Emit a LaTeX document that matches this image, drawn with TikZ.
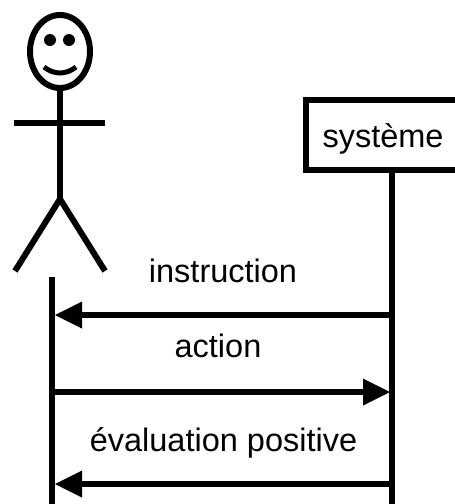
\documentclass[tikz,border=0pt]{standalone}
\usepackage{fontspec}
\setmainfont{Liberation Sans}
\usetikzlibrary{arrows.meta,shapes.geometric}
\tikzset{
  px/.style={x=1pt,y=-1pt},
  stroke/.style={draw=black,line width=6pt},
  msg/.style={stroke,-{Triangle[length=27pt,width=27pt,line width=0pt]},shorten >=0pt},
  lbl/.style={inner sep=0pt,anchor=base,font=\fontsize{32.5}{36}\selectfont},
}
\begin{document}
\begin{tikzpicture}[px]
\useasboundingbox (0,0) rectangle (455,504);
% actor
\node[stroke,draw,ellipse,minimum width=60pt,minimum height=73pt,inner sep=0pt] (head) at (60,51.5) {};
\fill (50,40) circle (6pt);
\fill (69,40) circle (6pt);
\draw[line width=5pt] (44,67) .. controls (54,75) and (66,75) .. (76,67);
\coordinate (hip) at (60,199);
\draw[stroke] (60,91) -- (hip);
\draw[stroke] (14,123) -- (105,123);
\draw[stroke,line join=miter] (15,271) -- (hip) -- (105,271);
% system
\draw[stroke] (470,170) -- (306,170) -- (306,100) -- (470,100);
\node[lbl] (sys) at (383,147) {système};
% lifelines
\coordinate (lt) at (52,277);
\coordinate (lb) at (52,504);
\coordinate (rt) at (392,172);
\coordinate (rb) at (392,504);
\draw[stroke] (lt) -- (lb);
\draw[stroke] (rt) -- (rb);
% messages
\coordinate (a1) at (390,315); \coordinate (a2) at (55,315);
\coordinate (b1) at (55,392); \coordinate (b2) at (390,392);
\coordinate (c1) at (390,484); \coordinate (c2) at (55,484);
\draw[msg] (a1) -- (a2);
\draw[msg] (b1) -- (b2);
\draw[msg] (c1) -- (c2);
\node[lbl] (t1) at (223,282) {instruction};
\node[lbl] (t2) at (218,357) {action};
\node[lbl] (t3) at (223.5,451) {évaluation positive};
\end{tikzpicture}
\end{document}
